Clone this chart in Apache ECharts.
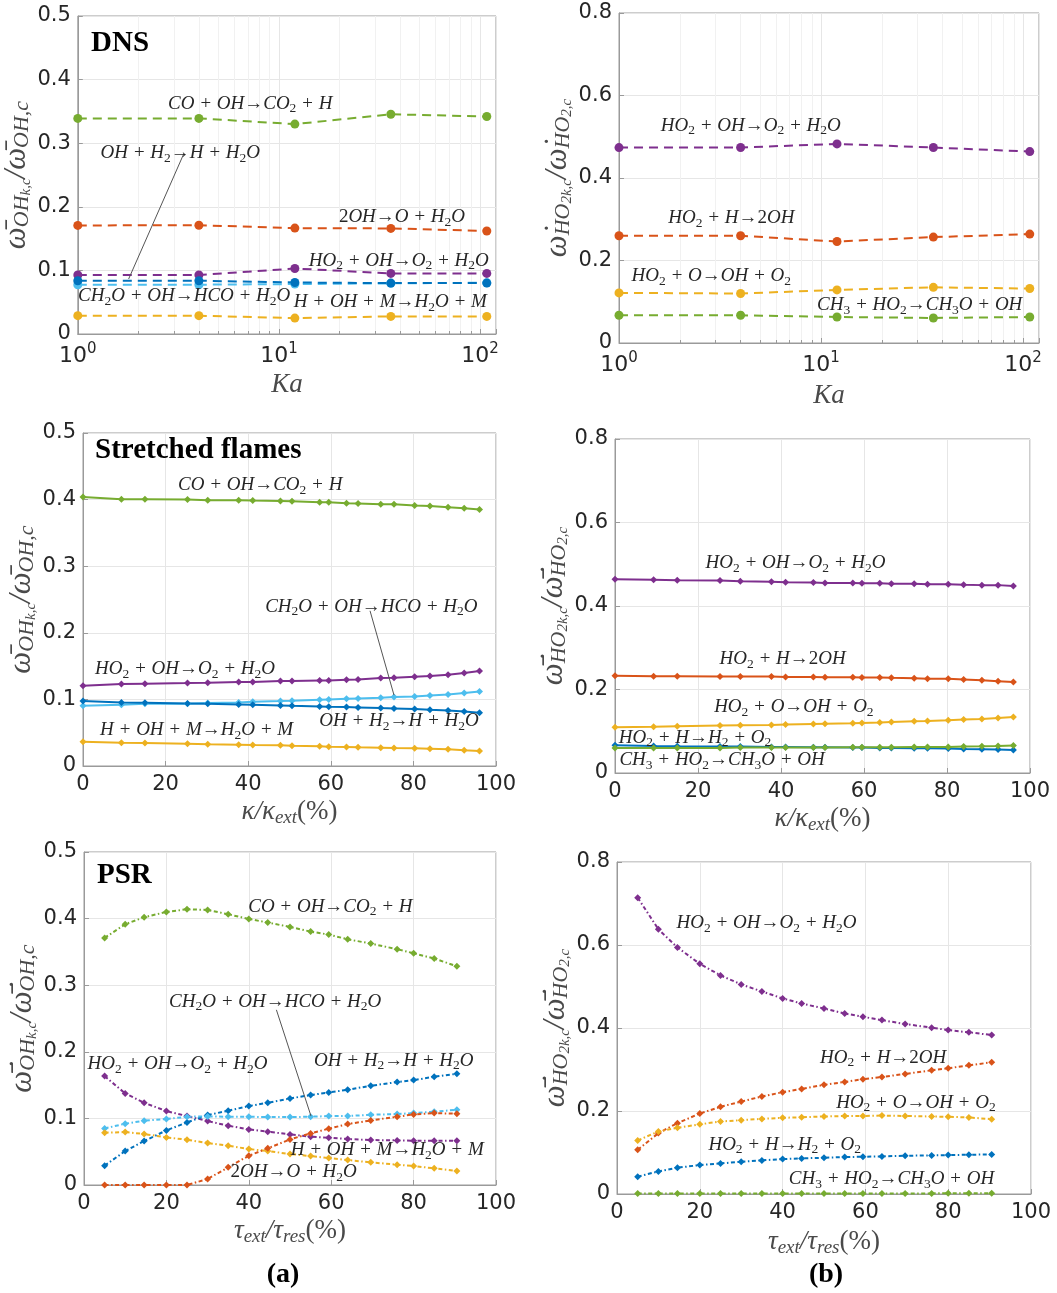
<!DOCTYPE html>
<html>
<head>
<meta charset="utf-8">
<script src="https://cdn.jsdelivr.net/npm/echarts@6/dist/echarts.min.js"></script>
<style>
  html, body { margin: 0; padding: 0; background: #fff; }
  #chart { width: 1057px; height: 1293px; }
</style>
</head>
<body>
<div id="chart"></div>
<script>
// ---------- data ----------
// DNS (Karlovitz number sweep)
const ka = [1, 4, 12, 36, 108];
const dnsOH_coOH   = [0.339, 0.339, 0.330, 0.3455, 0.342];
const dnsOH_2oh    = [0.1707, 0.171, 0.1665, 0.166, 0.162];
const dnsOH_ho2OH  = [0.0927, 0.0927, 0.103, 0.0953, 0.0953];
const dnsOH_ohH2   = [0.0838, 0.0838, 0.081, 0.080, 0.080];
const dnsOH_ch2oOH = [0.0775, 0.0775, 0.0785, 0.0796, 0.0806];
const dnsOH_hOHM   = [0.0288, 0.0288, 0.025, 0.0277, 0.0277];

const dnsHO2_ho2OH = [0.4737, 0.474, 0.4826, 0.474, 0.464];
const dnsHO2_ho2H  = [0.26, 0.26, 0.246, 0.2567, 0.264];
const dnsHO2_ho2O  = [0.1215, 0.12, 0.1287, 0.135, 0.132];
const dnsHO2_ch3   = [0.0672, 0.0672, 0.063, 0.0607, 0.063];

// Stretched flames (strain rate sweep, % of extinction)
const kappa = [0, 9.3, 15, 25.3, 30.2, 37.7, 41.1, 47.8, 50.6, 57.3, 59.5, 63.8, 66.6, 72.1, 75.3, 80.3, 84, 88.4, 92.3, 96];
const sfOH_coOH   = [0.404, 0.4005, 0.4005, 0.400, 0.399, 0.399, 0.3985, 0.398, 0.3975, 0.396, 0.396, 0.3945, 0.394, 0.393, 0.393, 0.391, 0.3905, 0.3885, 0.387, 0.385];
const sfOH_ho2OH  = [0.1205, 0.123, 0.1235, 0.1245, 0.125, 0.126, 0.126, 0.1275, 0.1275, 0.1285, 0.1285, 0.1295, 0.130, 0.132, 0.1325, 0.134, 0.135, 0.137, 0.1395, 0.1425];
const sfOH_ohH2   = [0.0975, 0.0955, 0.095, 0.094, 0.0935, 0.0925, 0.092, 0.091, 0.0905, 0.0895, 0.089, 0.0885, 0.088, 0.087, 0.0865, 0.0855, 0.0845, 0.0835, 0.082, 0.080];
const sfOH_ch2oOH = [0.0905, 0.092, 0.0935, 0.0935, 0.0945, 0.0955, 0.0965, 0.0975, 0.098, 0.0995, 0.100, 0.101, 0.1015, 0.1025, 0.1035, 0.1045, 0.106, 0.1075, 0.1095, 0.112];
const sfOH_hOHM   = [0.0365, 0.035, 0.0345, 0.0335, 0.0325, 0.032, 0.0315, 0.031, 0.0305, 0.0295, 0.029, 0.0285, 0.028, 0.0275, 0.027, 0.0265, 0.026, 0.025, 0.0235, 0.0225];

const sfHO2_ho2OH = [0.464, 0.463, 0.4616, 0.461, 0.459, 0.458, 0.457, 0.456, 0.455, 0.455, 0.4544, 0.4544, 0.453, 0.453, 0.452, 0.452, 0.451, 0.450, 0.450, 0.448];
const sfHO2_ho2H  = [0.233, 0.232, 0.232, 0.231, 0.231, 0.231, 0.230, 0.230, 0.2296, 0.2296, 0.229, 0.229, 0.228, 0.227, 0.226, 0.2256, 0.224, 0.222, 0.220, 0.218];
const sfHO2_ho2O  = [0.1096, 0.111, 0.112, 0.1136, 0.1144, 0.115, 0.116, 0.1176, 0.118, 0.119, 0.120, 0.121, 0.1224, 0.124, 0.1248, 0.1264, 0.128, 0.1296, 0.132, 0.1344];
const sfHO2_ho2HH = [0.0664, 0.0648, 0.064, 0.0632, 0.0632, 0.0624, 0.0624, 0.0616, 0.0616, 0.061, 0.061, 0.060, 0.060, 0.0592, 0.0592, 0.0584, 0.0576, 0.0568, 0.056, 0.0552];
const sfHO2_ch3   = [0.060, 0.060, 0.060, 0.060, 0.0608, 0.0608, 0.0608, 0.0608, 0.0608, 0.0616, 0.0616, 0.0616, 0.0616, 0.0624, 0.0624, 0.0624, 0.0632, 0.064, 0.0648, 0.0656];

// PSR (residence time sweep)
const tau = [5, 10, 14.6, 20, 25, 30, 35, 40, 44.6, 50, 55, 59.4, 64, 69.6, 76, 80, 85, 90.5];
const psrOH_coOH   = [0.371, 0.3915, 0.402, 0.410, 0.414, 0.413, 0.4065, 0.3995, 0.394, 0.3875, 0.3805, 0.376, 0.369, 0.3625, 0.354, 0.348, 0.340, 0.3285];
const psrOH_ho2OH  = [0.1635, 0.1375, 0.1235, 0.111, 0.1035, 0.096, 0.089, 0.0835, 0.080, 0.076, 0.0725, 0.071, 0.069, 0.0675, 0.067, 0.0665, 0.0665, 0.0665];
const psrOH_ohH2   = [0.029, 0.051, 0.066, 0.082, 0.094, 0.105, 0.1115, 0.1185, 0.1235, 0.130, 0.135, 0.139, 0.143, 0.149, 0.1545, 0.1575, 0.1625, 0.167];
const psrOH_ch2oOH = [0.085, 0.092, 0.0965, 0.099, 0.1025, 0.103, 0.1025, 0.1025, 0.102, 0.102, 0.1025, 0.1035, 0.1035, 0.1055, 0.1065, 0.108, 0.110, 0.113];
const psrOH_hOHM   = [0.0785, 0.0795, 0.0765, 0.0715, 0.068, 0.063, 0.059, 0.054, 0.051, 0.0465, 0.0435, 0.0405, 0.0375, 0.034, 0.0305, 0.0285, 0.025, 0.021];
const psrOH_2oh    = [0, 0, 0, 0, 0, 0.009, 0.0265, 0.044, 0.055, 0.0685, 0.0775, 0.0845, 0.0915, 0.097, 0.1025, 0.106, 0.108, 0.107];

const psrHO2_ho2OH = [0.714, 0.638, 0.594, 0.5547, 0.5267, 0.505, 0.488, 0.4713, 0.459, 0.447, 0.435, 0.427, 0.419, 0.4096, 0.4008, 0.395, 0.3896, 0.383];
const psrHO2_ho2H  = [0.1066, 0.1467, 0.1707, 0.194, 0.210, 0.2228, 0.2349, 0.2453, 0.2533, 0.263, 0.270, 0.2766, 0.282, 0.2894, 0.298, 0.303, 0.310, 0.3174];
const psrHO2_ho2O  = [0.129, 0.1507, 0.1595, 0.168, 0.1747, 0.178, 0.181, 0.1836, 0.185, 0.1868, 0.188, 0.188, 0.189, 0.188, 0.1868, 0.186, 0.1844, 0.1804];
const psrHO2_ho2HH = [0.0417, 0.0545, 0.0633, 0.0697, 0.0737, 0.0778, 0.081, 0.0842, 0.0858, 0.0874, 0.089, 0.0898, 0.0906, 0.0922, 0.093, 0.0938, 0.0946, 0.0954];
const psrHO2_ch3   = [0.001, 0.001, 0.001, 0.001, 0.001, 0.001, 0.001, 0.001, 0.001, 0.001, 0.001, 0.001, 0.001, 0.001, 0.0015, 0.002, 0.002, 0.002];

// reaction labels
const R_CO    = 'CO + OH→CO_2 + H';
const R_OHH2  = 'OH + H_2→H + H_2O';
const R_2OH   = '2OH→O + H_2O';
const R_HO2OH = 'HO_2 + OH→O_2 + H_2O';
const R_CH2O  = 'CH_2O + OH→HCO + H_2O';
const R_HOHM  = 'H + OH + M→H_2O + M';
const R_HO2H  = 'HO_2 + H→2OH';
const R_HO2O  = 'HO_2 + O→OH + O_2';
const R_HO2HH = 'HO_2 + H→H_2 + O_2';
const R_CH3   = 'CH_3 + HO_2→CH_3O + OH';

// ---------- styling ----------
const COL = { blue: '#0072BD', orange: '#D95319', yellow: '#EDB120', purple: '#7E2F8E', green: '#77AC30', cyan: '#4DBEEE' };
const SERIF = 'Liberation Serif';
const SANS = 'DejaVu Sans';
const TXT = '#262626';

// reaction string -> rich text (subscripts lowered, digits upright)
function toRich(str) {
  let out = '';
  const push = (txt, sub) => {
    txt.split(/(\d+)/).forEach(p => {
      if (!p) return;
      const dig = /^\d+$/.test(p);
      out += '{' + (sub ? (dig ? 'sd' : 'si') : (dig ? 'd' : 'i')) + '|' + p + '}';
    });
  };
  const re = /_\{([^}]*)\}|_(.)/g;
  let m, last = 0;
  while ((m = re.exec(str))) {
    push(str.slice(last, m.index), false);
    push(m[1] !== undefined ? m[1] : m[2], true);
    last = re.lastIndex;
  }
  push(str.slice(last), false);
  return out;
}
const ANN_RICH = {
  i:  { fontFamily: SERIF, fontStyle: 'italic', fontSize: 19, color: TXT, lineHeight: 24 },
  d:  { fontFamily: SERIF, fontSize: 19, color: TXT, lineHeight: 24 },
  si: { fontFamily: SERIF, fontStyle: 'italic', fontSize: 13.5, color: TXT, lineHeight: 12, verticalAlign: 'bottom' },
  sd: { fontFamily: SERIF, fontSize: 13.5, color: TXT, lineHeight: 12, verticalAlign: 'bottom' }
};

const NAME_COL = '#4a4a4a';
const Y_RICH = {
  w:  { fontFamily: SERIF, fontStyle: 'italic', fontSize: 31, color: NAME_COL, lineHeight: 34 },
  s:  { fontFamily: SERIF, fontStyle: 'italic', fontSize: 22, color: NAME_COL, lineHeight: 20, verticalAlign: 'bottom' },
  ss: { fontFamily: SERIF, fontStyle: 'italic', fontSize: 15, color: NAME_COL, lineHeight: 9, verticalAlign: 'bottom' }
};
const X_RICH = {
  w:  { fontFamily: SERIF, fontStyle: 'italic', fontSize: 27, color: NAME_COL, lineHeight: 30 },
  u:  { fontFamily: SERIF, fontSize: 27, color: NAME_COL, lineHeight: 30 },
  s:  { fontFamily: SERIF, fontStyle: 'italic', fontSize: 19, color: NAME_COL, lineHeight: 16, verticalAlign: 'bottom' }
};
const BAR = 'ω\u0304', DOT = 'ω\u0307', BARDOT = 'ω\u0307\u0304';
const yNameOH  = w => `{w|${w}}{s|OH}{ss|k,c}{w|/${w}}{s|OH,c}`;
const yNameHO2 = w => `{w|${w}}{s|HO}{ss|2k,c}{w|/${w}}{s|HO}{ss|2,c}`;
const xNameKa    = '{w|Ka}';
const xNameKappa = '{w|κ/κ}{s|ext}{u|(%)}';
const xNameTau   = '{w|τ}{s|ext}{w|/τ}{s|res}{u|(%)}';

const LABEL_STYLE = { color: TXT, fontFamily: SANS, fontSize: 21 };
const GRID_LINE = { color: '#e6e6e6', width: 1 };
const AXIS_COL = '#9a9a9a';

// panel geometry and axes
const panels = [
  { grid: { left: 77,  top: 16,  width: 419, height: 318 }, log: true,  ymax: 0.5, yint: 0.1, yName: yNameOH(BAR),     xName: xNameKa,    yGap: 38, xGap: 36 },
  { grid: { left: 619, top: 13,  width: 420, height: 330 }, log: true,  ymax: 0.8, yint: 0.2, yName: yNameHO2(DOT),    xName: xNameKa,    yGap: 39, xGap: 38 },
  { grid: { left: 83,  top: 433, width: 413, height: 333 }, log: false, ymax: 0.5, yint: 0.1, yName: yNameOH(BAR),     xName: xNameKappa, yGap: 39, xGap: 31 },
  { grid: { left: 615, top: 439, width: 415, height: 334 }, log: false, ymax: 0.8, yint: 0.2, yName: yNameHO2(BARDOT), xName: xNameKappa, yGap: 35, xGap: 31 },
  { grid: { left: 84,  top: 852, width: 412, height: 333 }, log: false, ymax: 0.5, yint: 0.1, yName: yNameOH(BARDOT),  xName: xNameTau,   yGap: 36, xGap: 31 },
  { grid: { left: 617, top: 862, width: 414, height: 332 }, log: false, ymax: 0.8, yint: 0.2, yName: yNameHO2(BARDOT), xName: xNameTau,   yGap: 40, xGap: 33 }
];

const grids = panels.map(p => Object.assign({ show: true, borderColor: AXIS_COL, borderWidth: 1, backgroundColor: '#fff' }, p.grid));

const xAxes = panels.map((p, i) => {
  const common = {
    gridIndex: i,
    name: p.xName, nameLocation: 'middle', nameGap: p.xGap,
    nameTextStyle: { rich: X_RICH },
    axisLine: { show: true, lineStyle: { color: AXIS_COL } },
    axisTick: { show: true, inside: true, length: 5, lineStyle: { color: AXIS_COL } },
    splitLine: { show: true, lineStyle: GRID_LINE }
  };
  if (p.log) {
    return Object.assign(common, {
      type: 'log', logBase: 10, min: 1, max: 120,
      minorTick: { show: true, splitNumber: 9, length: 3, lineStyle: { color: AXIS_COL } },
      minorSplitLine: { show: true, lineStyle: { color: '#f1f1f1', width: 1 } },
      axisLabel: {
        margin: 8,
        formatter: v => {
          const e = Math.round(Math.log10(v));
          return Math.abs(Math.pow(10, e) - v) < 1e-9 ? `{b|10}{p|${e}}` : '';
        },
        rich: {
          b: { fontFamily: SANS, fontSize: 22, color: TXT, lineHeight: 28 },
          p: { fontFamily: SANS, fontSize: 15, color: TXT, lineHeight: 15, verticalAlign: 'top' }
        }
      }
    });
  }
  return Object.assign(common, {
    type: 'value', min: 0, max: 100, interval: 20,
    axisLabel: Object.assign({ margin: 8 }, LABEL_STYLE)
  });
});

const yAxes = panels.map((p, i) => ({
  gridIndex: i, type: 'value', min: 0, max: p.ymax, interval: p.yint,
  name: p.yName, nameLocation: 'middle', nameRotate: 90, nameGap: p.yGap,
  nameTextStyle: { rich: Y_RICH },
  axisLine: { show: true, lineStyle: { color: AXIS_COL } },
  axisTick: { show: true, inside: true, length: 5, lineStyle: { color: AXIS_COL } },
  splitLine: { show: true, lineStyle: GRID_LINE },
  axisLabel: Object.assign({ margin: 7 }, LABEL_STYLE)
}));

// line styles per row: dashed (DNS), solid (stretched), dash-dot (PSR)
const ROW_STYLE = [
  { type: [9, 6], width: 2, symbol: 'circle', size: 9 },
  { type: 'solid', width: 2, symbol: 'diamond', size: 7 },
  { type: [4, 2.5, 1.5, 2.5], width: 2, symbol: 'diamond', size: 7 }
];

function line(panel, xs, ys, color) {
  const st = ROW_STYLE[Math.floor(panel / 2)];
  return {
    type: 'line', xAxisIndex: panel, yAxisIndex: panel,
    data: xs.map((x, k) => [x, ys[k]]),
    symbol: st.symbol, symbolSize: st.size, showSymbol: true,
    itemStyle: { color: color },
    lineStyle: { color: color, width: st.width, type: st.type },
    animation: false, silent: true, z: 3
  };
}

// text annotations (in data coordinates) + arrows
function annotations(panel, labels, arrows) {
  return {
    type: 'line', xAxisIndex: panel, yAxisIndex: panel, data: [],
    animation: false, silent: true, z: 5,
    markPoint: {
      symbol: 'circle', symbolSize: 0, silent: true, animation: false,
      label: { show: true, position: 'inside', formatter: p => toRich(p.name), rich: ANN_RICH },
      data: labels.map(l => ({ name: l[0], coord: [l[1], l[2]] }))
    },
    markLine: {
      silent: true, animation: false, symbol: ['none', 'arrow'], symbolSize: [0, 8],
      label: { show: false },
      lineStyle: { color: '#555', width: 1, type: 'solid' },
      data: (arrows || []).map(a => [{ coord: [a[0], a[1]] }, { coord: [a[2], a[3]] }])
    }
  };
}

const series = [
  // DNS, OH
  line(0, ka, dnsOH_coOH, COL.green),
  line(0, ka, dnsOH_2oh, COL.orange),
  line(0, ka, dnsOH_ho2OH, COL.purple),
  line(0, ka, dnsOH_ch2oOH, COL.cyan),
  line(0, ka, dnsOH_ohH2, COL.blue),
  line(0, ka, dnsOH_hOHM, COL.yellow),
  annotations(0, [
    [R_CO, 7.2, 0.362], [R_OHH2, 3.23, 0.284], [R_2OH, 40.9, 0.184], [R_HO2OH, 39.4, 0.115],
    [R_CH2O, 3.38, 0.059], [R_HOHM, 35.8, 0.050]
  ], [[3.36, 0.283, 1.79, 0.0865]]),
  // DNS, HO2
  line(1, ka, dnsHO2_ho2OH, COL.purple),
  line(1, ka, dnsHO2_ho2H, COL.orange),
  line(1, ka, dnsHO2_ho2O, COL.yellow),
  line(1, ka, dnsHO2_ch3, COL.green),
  annotations(1, [
    [R_HO2OH, 4.49, 0.527], [R_HO2H, 3.6, 0.302], [R_HO2O, 2.86, 0.162], [R_CH3, 30.8, 0.0915]
  ]),
  // Stretched, OH
  line(2, kappa, sfOH_coOH, COL.green),
  line(2, kappa, sfOH_ho2OH, COL.purple),
  line(2, kappa, sfOH_ch2oOH, COL.cyan),
  line(2, kappa, sfOH_ohH2, COL.blue),
  line(2, kappa, sfOH_hOHM, COL.yellow),
  annotations(2, [
    [R_CO, 42.9, 0.4215], [R_CH2O, 69.8, 0.239], [R_HO2OH, 24.7, 0.1455],
    [R_OHH2, 76.5, 0.0675], [R_HOHM, 27.5, 0.054]
  ], [[69.5, 0.233, 75.3, 0.1065]]),
  // Stretched, HO2
  line(3, kappa, sfHO2_ho2OH, COL.purple),
  line(3, kappa, sfHO2_ho2H, COL.orange),
  line(3, kappa, sfHO2_ho2O, COL.yellow),
  line(3, kappa, sfHO2_ho2HH, COL.blue),
  line(3, kappa, sfHO2_ch3, COL.green),
  annotations(3, [
    [R_HO2OH, 43.5, 0.502], [R_HO2H, 40.4, 0.272], [R_HO2O, 43.1, 0.158],
    [R_HO2HH, 19.3, 0.084], [R_CH3, 25.8, 0.030]
  ]),
  // PSR, OH
  line(4, tau, psrOH_coOH, COL.green),
  line(4, tau, psrOH_ho2OH, COL.purple),
  line(4, tau, psrOH_ohH2, COL.blue),
  line(4, tau, psrOH_ch2oOH, COL.cyan),
  line(4, tau, psrOH_hOHM, COL.yellow),
  line(4, tau, psrOH_2oh, COL.orange),
  annotations(4, [
    [R_CO, 59.8, 0.4175], [R_CH2O, 46.4, 0.275], [R_OHH2, 75.2, 0.1865], [R_HO2OH, 22.7, 0.1815],
    [R_HOHM, 73.6, 0.0525], [R_2OH, 50.9, 0.019]
  ], [[46.7, 0.263, 55.1, 0.1035]]),
  // PSR, HO2
  line(5, tau, psrHO2_ho2OH, COL.purple),
  line(5, tau, psrHO2_ho2H, COL.orange),
  line(5, tau, psrHO2_ho2O, COL.yellow),
  line(5, tau, psrHO2_ho2HH, COL.blue),
  line(5, tau, psrHO2_ch3, COL.green),
  annotations(5, [
    [R_HO2OH, 36.1, 0.653], [R_HO2H, 64.3, 0.3287], [R_HO2O, 72.2, 0.2204],
    [R_HO2HH, 40.5, 0.1186], [R_CH3, 66.3, 0.036]
  ])
];

// panel titles and sub-figure tags
const titleFont = `bold 29px "${SERIF}"`;
const tagFont = `bold 28px "${SERIF}"`;
const graphic = [
  { type: 'text', left: 91, top: 29, style: { text: 'DNS', font: titleFont, fill: '#000' }, z: 10 },
  { type: 'text', left: 95, top: 436, style: { text: 'Stretched flames', font: titleFont, fill: '#000' }, z: 10 },
  { type: 'text', left: 97, top: 861, style: { text: 'PSR', font: titleFont, fill: '#000' }, z: 10 },
  { type: 'text', x: 283, y: 1275, style: { text: '(a)', font: tagFont, fill: '#000', textAlign: 'center', textVerticalAlign: 'middle' }, z: 10 },
  { type: 'text', x: 826, y: 1275, style: { text: '(b)', font: tagFont, fill: '#000', textAlign: 'center', textVerticalAlign: 'middle' }, z: 10 }
];

const chart = echarts.init(document.getElementById('chart'), null, { renderer: 'canvas' });
chart.setOption({
  backgroundColor: '#fff',
  animation: false,
  grid: grids,
  xAxis: xAxes,
  yAxis: yAxes,
  series: series,
  graphic: graphic
});
</script>
</body>
</html>
